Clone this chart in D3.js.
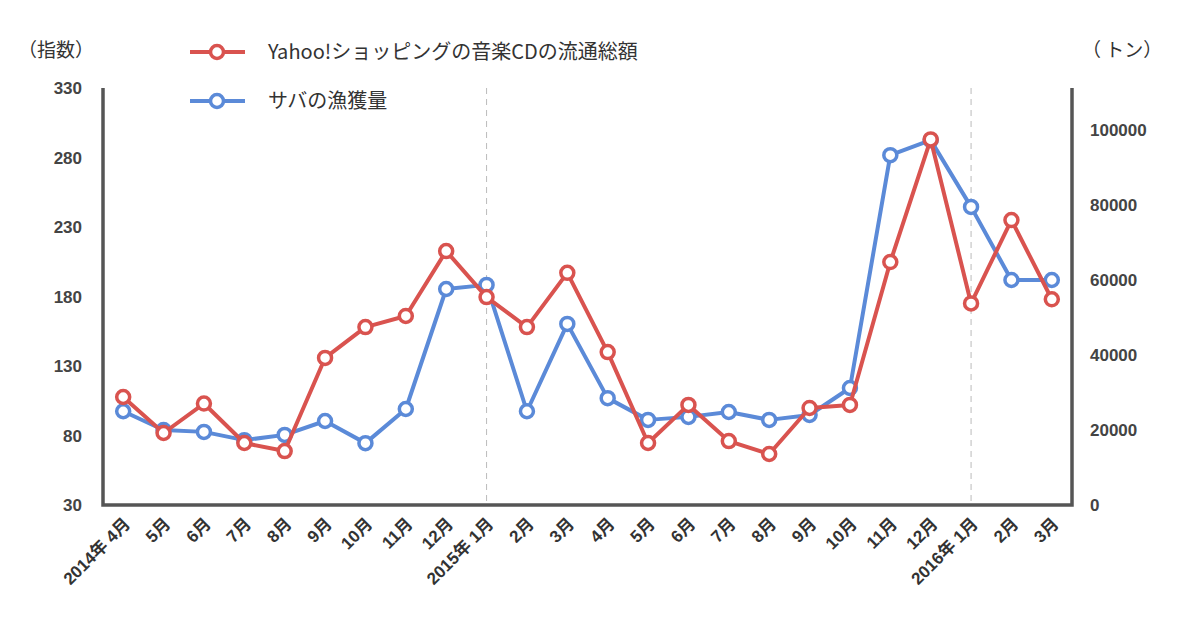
<!DOCTYPE html>
<html><head><meta charset="utf-8">
<script src="https://cdn.jsdelivr.net/npm/d3@7"></script>
<style>body{margin:0;background:#fff;font-family:"Noto Sans CJK JP","Liberation Sans",sans-serif;}</style>
</head><body><svg id="c" width="1200" height="630"></svg>
<script>
const months = ["2014年 4月","5月","6月","7月","8月","9月","10月","11月","12月","2015年 1月","2月","3月","4月","5月","6月","7月","8月","9月","10月","11月","12月","2016年 1月","2月","3月"];
const cdIndex = [107.7,81.8,103,74.6,68.8,135.8,158,166,212.7,179.6,158,197,140,74.6,102,76,66.7,99.8,102,204.8,293,175,235,178];
const mackerel = [25000,20000,19500,17300,18700,22400,16500,25600,57600,58700,25000,48300,28500,22700,23500,24800,22700,24000,31200,93300,97300,79500,60000,60000];
const leftTicks = [30,80,130,180,230,280,330];
const rightTicks = [0,20000,40000,60000,80000,100000];
const seriesNames = ["Yahoo!ショッピングの音楽CDの流通総額","サバの漁獲量"];
const colors = ["#d9534f","#5b8ad8"];

const svg = d3.select("#c");
const L=103,R=1072,T=88,B=505;
const x = d3.scalePoint().domain(d3.range(months.length)).range([L,R]).padding(0.5);
const yL = d3.scaleLinear().domain([30,330]).range([B,T]);
const yR = d3.scaleLinear().domain([0,111200]).range([B,T]);
const tc="#333";
[9,21].forEach(i=>{
  svg.append("line").attr("x1",x(i)).attr("x2",x(i)).attr("y1",T).attr("y2",B)
   .attr("stroke","#bbb").attr("stroke-dasharray","6,5").attr("stroke-width",1);
});
svg.append("path").attr("d",`M${L},${T}V${B}H${R}V${T}`).attr("fill","none").attr("stroke","#555").attr("stroke-width",3.5);
const nf="Liberation Sans, sans-serif";
svg.selectAll(".lt").data(leftTicks).enter().append("text").attr("x",82).attr("y",d=>yL(d)+6)
 .attr("text-anchor","end").attr("font-size",17).attr("font-weight","bold").attr("fill","#444").attr("font-family",nf).text(d=>d);
svg.selectAll(".rt").data(rightTicks).enter().append("text").attr("x",1090).attr("y",d=>yR(d)+6)
 .attr("text-anchor","start").attr("font-size",17).attr("font-weight","bold").attr("fill","#444").attr("font-family",nf).text(d=>d);
svg.append("text").attr("x",18).attr("y",57).attr("font-size",19).attr("fill",tc).text("（指数）");
svg.append("text").attr("x",1082).attr("y",57).attr("font-size",19).attr("fill",tc).text("（ トン）");
svg.selectAll(".xl").data(months).enter().append("text")
 .attr("transform",(d,i)=>`translate(${x(i)+8},${B+20}) rotate(-45)`)
 .attr("text-anchor","end").attr("font-size",17).attr("fill",tc).attr("font-weight","bold")
 .attr("font-family","Liberation Sans, Noto Sans CJK JP, sans-serif").text(d=>d);
function draw(vals,y,col){
  svg.append("path").datum(vals).attr("fill","none").attr("stroke",col).attr("stroke-width",4)
   .attr("stroke-linejoin","round").attr("d",d3.line().x((d,i)=>x(i)).y(d=>y(d)));
  svg.selectAll(null).data(vals).enter().append("circle").attr("cx",(d,i)=>x(i)).attr("cy",d=>y(d))
   .attr("r",6.5).attr("fill","#fff").attr("stroke",col).attr("stroke-width",3.5);
}
draw(mackerel,yR,colors[1]);
draw(cdIndex,yL,colors[0]);
seriesNames.forEach((n,i)=>{
  const ly=52+i*49;
  svg.append("line").attr("x1",190).attr("x2",245).attr("y1",ly).attr("y2",ly).attr("stroke",colors[i]).attr("stroke-width",4);
  svg.append("circle").attr("cx",217).attr("cy",ly).attr("r",6.5).attr("fill","#fff").attr("stroke",colors[i]).attr("stroke-width",3.5);
  svg.append("text").attr("x",268).attr("y",ly+7).attr("font-size",20).attr("fill",tc).text(n);
});
</script></body></html>
